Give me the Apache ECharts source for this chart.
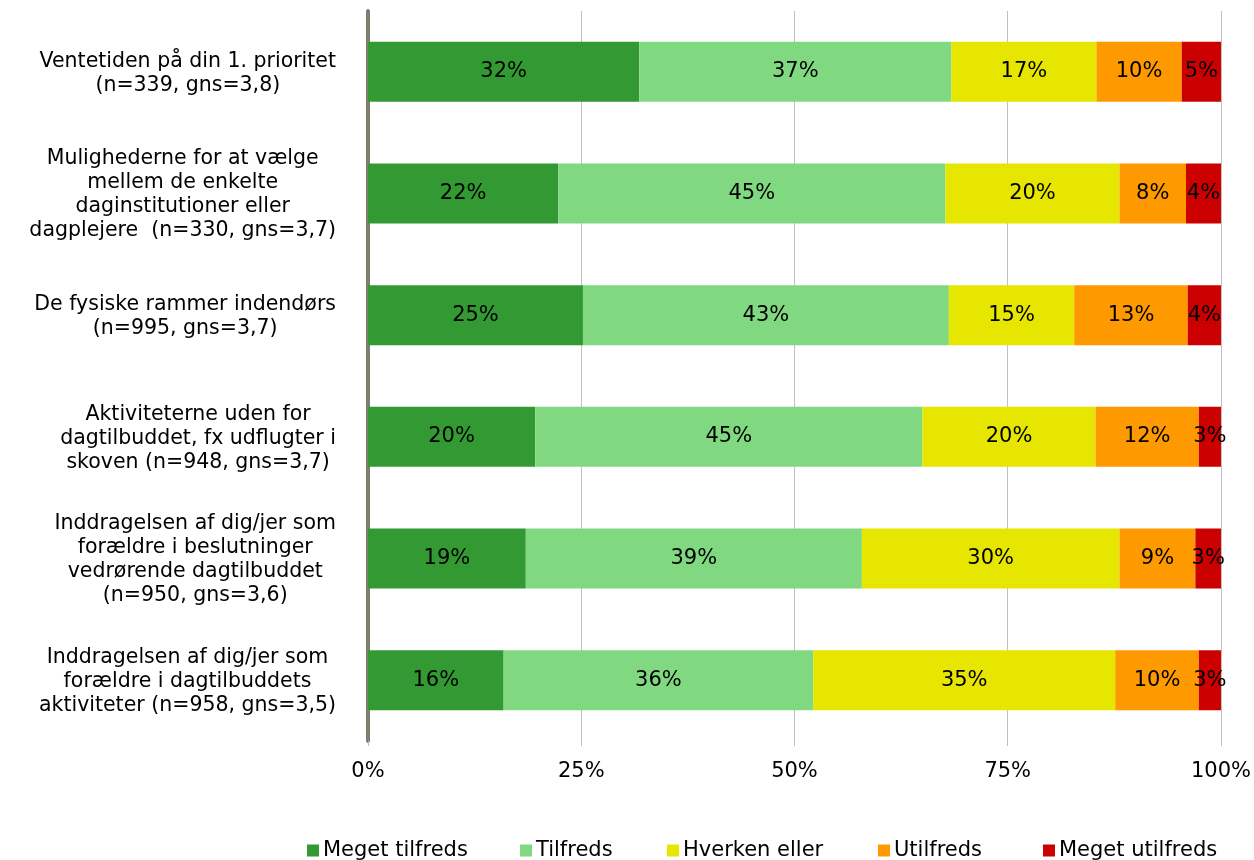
<!DOCTYPE html>
<html><head><meta charset="utf-8">
<script src="https://cdn.jsdelivr.net/npm/echarts@6/dist/echarts.min.js"></script>
<style>html,body{margin:0;padding:0;background:#fff}#c{width:1254px;height:860px}</style>
</head><body><div id="c"></div>
<script>
const categories = [
  "Ventetiden på din 1. prioritet\n(n=339, gns=3,8)",
  "Mulighederne for at vælge\nmellem de enkelte\ndaginstitutioner eller\ndagplejere  (n=330, gns=3,7)",
  "De fysiske rammer indendørs\n(n=995, gns=3,7)",
  "Aktiviteterne uden for\ndagtilbuddet, fx udflugter i\nskoven (n=948, gns=3,7)",
  "Inddragelsen af dig/jer som\nforældre i beslutninger\nvedrørende dagtilbuddet\n(n=950, gns=3,6)",
  "Inddragelsen af dig/jer som\nforældre i dagtilbuddets\naktiviteter (n=958, gns=3,5)"
];
const seriesNames = ["Meget tilfreds","Tilfreds","Hverken eller","Utilfreds","Meget utilfreds"];
const megetTilfreds  = [31.8, 22.3, 25.2, 19.6, 18.5, 15.9];
const tilfreds       = [36.6, 45.4, 42.9, 45.4, 39.4, 36.3];
const hverkenEller   = [17.0, 20.4, 14.7, 20.3, 30.2, 35.4];
const utilfreds      = [10.0, 7.8, 13.3, 12.1, 8.9, 9.8];
const megetUtilfreds = [4.7, 4.1, 3.9, 2.6, 3.0, 2.6];
const xTicks = [0, 25, 50, 75, 100];
const colors = ["#339933","#80d880","#e6e600","#ff9900","#cc0000"];
const values = [megetTilfreds, tilfreds, hverkenEller, utilfreds, megetUtilfreds];
const legendLeft = [307, 520, 667, 878, 1043];

const FONT = "DejaVu Sans";
const chart = echarts.init(document.getElementById('c'));
chart.setOption({
  animation:false,
  textStyle:{fontFamily:FONT},
  grid:{left:368, right:33, top:11, height:730, containLabel:false},
  legend: seriesNames.map((n,i)=>({
    data:[n], left:legendLeft[i], top:840, padding:0, itemWidth:12, itemHeight:12, itemGap:0,
    icon:'rect',
    textStyle:{fontFamily:FONT, fontSize:21, color:'#000', padding:[0,0,0,-1]}
  })),
  xAxis:{
    type:'value', min:0, max:100, interval:25,
    axisLine:{show:false},
    axisTick:{show:true, length:5, lineStyle:{color:'#bfbfbf'}},
    splitLine:{show:true, lineStyle:{color:'#bfbfbf', width:1}},
    axisLabel:{formatter:v=>xTicks.includes(v)?v+'%':'', fontFamily:FONT, fontSize:21, color:'#000', margin:20}
  },
  yAxis:{
    type:'category', data:categories, inverse:true,
    axisLine:{show:true, lineStyle:{color:'#7f7f6f', width:4}},
    axisTick:{show:false},
    axisLabel:{
      align:'right', margin:32,
      formatter:v=>v.split('\n').map(l=>'{a|'+l+'}').join('\n'),
      rich:{a:{align:'center', fontFamily:FONT, fontSize:20.5, color:'#000', lineHeight:24, padding:[3,0,0,0]}}
    }
  },
  series: seriesNames.map((n,i)=>({
    name:n, type:'bar', stack:'a', barWidth:60,
    itemStyle:{color:colors[i]},
    label:{show:true, position:'inside', formatter:p=>Math.round(p.value)+'%', fontFamily:FONT, fontSize:21, color:'#000'},
    data: values[i]
  }))
});
</script></body></html>
